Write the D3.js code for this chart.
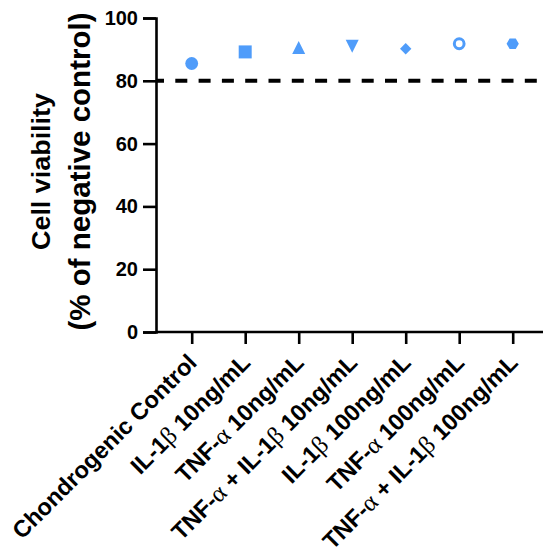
<!DOCTYPE html>
<html>
<head>
<meta charset="utf-8">
<script src="https://cdn.jsdelivr.net/npm/d3@7"></script>
<style>
  body { margin: 0; background: #fff; }
  text { font-family: Arial, "Liberation Sans", sans-serif; font-weight: bold; }
</style>
</head>
<body>
<div id="chart"></div>
<script>
// Data
const groups = [
    ["Chondrogenic Control"],
    ["IL-1", "β", " 10ng/mL"],
    ["TNF-", "α", " 10ng/mL"],
    ["TNF-", "α", " + IL-1", "β", " 10ng/mL"],
    ["IL-1", "β", " 100ng/mL"],
    ["TNF-", "α", " 100ng/mL"],
    ["TNF-", "α", " + IL-1", "β", " 100ng/mL"]
];
const viability = [85.5, 89.2, 90.6, 91.0, 90.2, 91.8, 91.8];
const shapes = ["circle", "square", "triangle", "triangleDown", "diamond", "ring", "hexagon"];
const yTicks = [0, 20, 40, 60, 80, 100];
const threshold = 80;

const width = 543, height = 553;
const margin = { top: 18, left: 156, bottom: 221 };
const color = "#4f9cfa";

const svg = d3.select("#chart").append("svg")
    .attr("width", width)
    .attr("height", height);

const y = d3.scaleLinear().domain([0, 100]).range([height - margin.bottom, margin.top]);
const x = d3.scalePoint().domain(d3.range(groups.length)).range([191.7, 512.7]);

// bbox-centred symbol types
const sym = {
    circle: { draw(c, s) { const r = Math.sqrt(s / Math.PI); c.moveTo(r, 0); c.arc(0, 0, r, 0, 2 * Math.PI); } },
    ring: { draw(c, s) { const r = Math.sqrt(s / Math.PI); c.moveTo(r, 0); c.arc(0, 0, r, 0, 2 * Math.PI); } },
    square: { draw(c, s) { const h = Math.sqrt(s) / 2; c.rect(-h, -h, 2 * h, 2 * h); } },
    triangle: { draw(c, s) { const h = Math.sqrt(s) / 2; c.moveTo(0, -h); c.lineTo(h, h); c.lineTo(-h, h); c.closePath(); } },
    triangleDown: { draw(c, s) { const h = Math.sqrt(s) / 2; c.moveTo(0, h); c.lineTo(h, -h); c.lineTo(-h, -h); c.closePath(); } },
    diamond: { draw(c, s) { const h = Math.sqrt(s) / 2; c.moveTo(0, -h); c.lineTo(h, 0); c.lineTo(0, h); c.lineTo(-h, 0); c.closePath(); } },
    hexagon: { draw(c, s) {
        const r = Math.sqrt(s) / 2;
        for (let i = 0; i < 6; i++) {
            const a = i * Math.PI / 3;
            const px = r * Math.cos(a), py = r * Math.sin(a);
            if (i === 0) c.moveTo(px, py); else c.lineTo(px, py);
        }
        c.closePath();
    } }
};
const sizes = { circle: 130, ring: 75, square: 169, triangle: 169, triangleDown: 169, diamond: 130, hexagon: 150 };

// y axis
const yAxis = svg.append("g")
    .attr("transform", `translate(${margin.left},0)`)
    .call(d3.axisLeft(y).tickValues(yTicks).tickSize(13).tickPadding(5));
yAxis.selectAll("text").style("font-size", "20px").attr("fill", "#000");

// x axis
const xAxis = svg.append("g")
    .attr("transform", `translate(0,${y(0)})`)
    .call(d3.axisBottom(x).tickSize(12).tickFormat(""));
xAxis.select(".domain").attr("d", `M${margin.left},0H${width}`);

svg.selectAll(".domain, .tick line").attr("stroke", "#000").attr("stroke-width", 2.6);

// rotated category labels
xAxis.selectAll(".tick").append("text")
    .attr("text-anchor", "end")
    .attr("fill", "#000")
    .attr("transform", "translate(6,32) rotate(-45)")
    .style("font-size", "23.5px")
    .each(function(i) {
        const t = d3.select(this);
        groups[i].forEach(part => {
            const greek = part === "α" || part === "β";
            t.append("tspan").text(part)
                .style("font-weight", greek ? "normal" : "bold")
                .style("font-family", greek ? "'Liberation Serif', serif" : null)
                .style("font-size", greek ? "25px" : null);
        });
    });

// threshold line
svg.append("line")
    .attr("x1", margin.left).attr("x2", width)
    .attr("y1", y(threshold)).attr("y2", y(threshold))
    .attr("stroke", "#000").attr("stroke-width", 4)
    .attr("stroke-dasharray", "12 11.3")
    .attr("stroke-dashoffset", 4);

// markers
svg.selectAll(".pt")
    .data(viability)
    .enter()
    .append("path")
    .attr("class", "pt")
    .attr("transform", (d, i) => `translate(${x(i)},${y(d)})`)
    .attr("d", (d, i) => d3.symbol().type(sym[shapes[i]]).size(sizes[shapes[i]])())
    .attr("fill", (d, i) => shapes[i] === "ring" ? "none" : color)
    .attr("stroke", (d, i) => shapes[i] === "ring" ? color : "none")
    .attr("stroke-width", 3);

// y label (two lines, second one larger as in the reference)
const cy = 171.5;
svg.append("text")
    .attr("transform", `translate(50,${cy}) rotate(-90)`)
    .attr("text-anchor", "middle")
    .attr("textLength", 157)
    .attr("lengthAdjust", "spacingAndGlyphs")
    .style("font-size", "25px")
    .attr("fill", "#000")
    .text("Cell viability");
svg.append("text")
    .attr("transform", `translate(90,${cy}) rotate(-90)`)
    .attr("text-anchor", "middle")
    .style("font-size", "29.5px")
    .attr("fill", "#000")
    .text("(% of negative control)");
</script>
</body>
</html>
